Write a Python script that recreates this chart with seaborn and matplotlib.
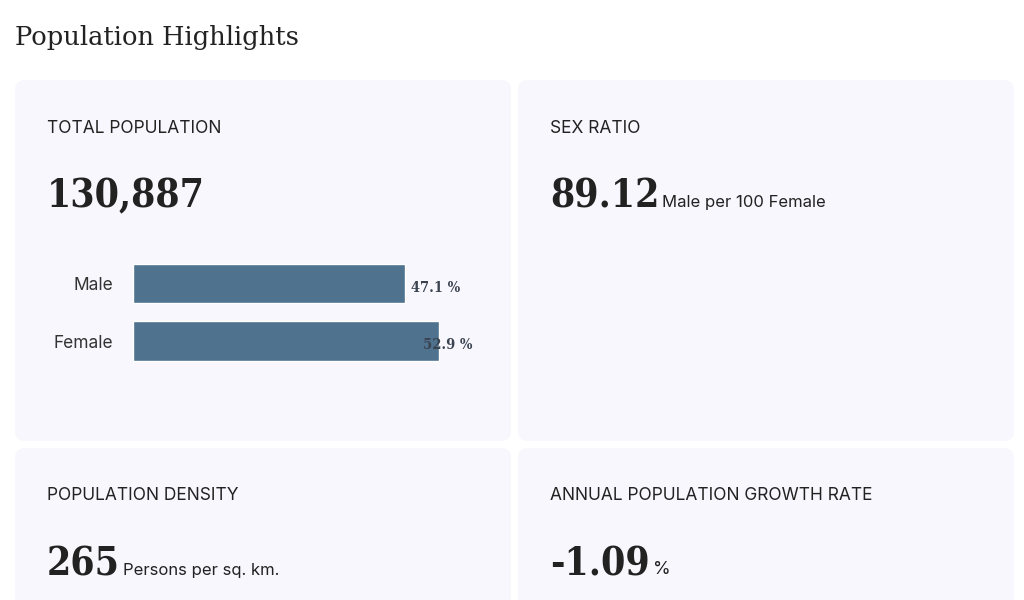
import matplotlib
matplotlib.use("Agg")
import matplotlib.pyplot as plt
from matplotlib.patches import FancyBboxPatch
import seaborn as sns
import pandas as pd

# chart values
title = "Population Highlights"
sex_labels = ["Male", "Female"]
sex_share = [47.1, 52.9]
total_population = "130,887"
sex_ratio = "89.12"
sex_ratio_unit = "Male per 100 Female"
density = "265"
density_unit = "Persons per sq. km."
growth_rate = "-1.09"
growth_unit = "%"

W, H = 1024, 600
CARD = "#f8f7fd"
BAR = "#4f728f"
DARK = "#222222"
SERIF = "DejaVu Serif"
SANS = "Inter"

sns.set_theme(style="white")
plt.rcParams["font.family"] = [SANS, "DejaVu Sans"]

fig = plt.figure(figsize=(W / 100, H / 100), dpi=100)
fig.patch.set_facecolor("white")

# background axes in pixel coordinates
bg = fig.add_axes([0, 0, 1, 1])
bg.set_xlim(0, W)
bg.set_ylim(H, 0)
bg.axis("off")

cards = [(15, 80, 496, 361), (518, 80, 496, 361), (15, 448, 496, 200), (518, 448, 496, 200)]
for x, y, w, h in cards:
    bg.add_patch(FancyBboxPatch((x, y), w, h, boxstyle="round,pad=0,rounding_size=10",
                                facecolor=CARD, edgecolor="none"))

bg.text(15, 45, title, family=SERIF, fontsize=18.5, color=DARK, va="baseline")

headers = [(47, 133, "TOTAL POPULATION"), (550, 133, "SEX RATIO"),
           (47, 500, "POPULATION DENSITY"), (550, 500, "ANNUAL POPULATION GROWTH RATE")]
for x, y, s in headers:
    bg.text(x, y, s, fontsize=12.5, color=DARK, va="baseline")

renderer = fig.canvas.get_renderer()


def big_number(x, y, value, unit=None, unit_size=12):
    t = bg.text(x, y, value, family=SERIF, fontsize=28, weight="bold", stretch="condensed",
                color=DARK, va="baseline")
    if unit:
        bb = t.get_window_extent(renderer=renderer)
        bg.text(bb.x1 + 3, y - 1, unit, fontsize=unit_size, color=DARK, va="baseline",
                transform=matplotlib.transforms.blended_transform_factory(
                    matplotlib.transforms.IdentityTransform(), bg.transData))


big_number(47, 207, total_population)
big_number(550, 208, sex_ratio, sex_ratio_unit)
big_number(47, 576, density, density_unit)
big_number(550, 575, growth_rate, growth_unit, unit_size=13)

# bar chart of sex share
df = pd.DataFrame({"sex": sex_labels, "share": sex_share})
left, right = 133, 133 + 60 * 5.78
top, bottom = 254.75, 369.75
ax = fig.add_axes([left / W, 1 - bottom / H, (right - left) / W, (bottom - top) / H])
sns.barplot(data=df, x="share", y="sex", orient="h", color=BAR, saturation=1, width=0.69, ax=ax)
ax.set_xlim(0, 60)
ax.set_ylim(1.5, -0.5)
ax.patch.set_alpha(0)
for s in ax.spines.values():
    s.set_visible(False)
ax.set_xticks([])
ax.set_xlabel("")
ax.set_ylabel("")
ax.tick_params(axis="y", length=0, pad=14, labelsize=12.5, labelcolor="#333333")

offsets = [1.0, -2.8]
for i, (v, off) in enumerate(zip(sex_share, offsets)):
    ax.text(v + off, i + 0.07, f"{v} %", family=SERIF, fontsize=10.5, weight="bold",
            stretch="condensed", color="#3a4350", va="center", ha="left")

fig.savefig("out.png", dpi=100, facecolor="white")
